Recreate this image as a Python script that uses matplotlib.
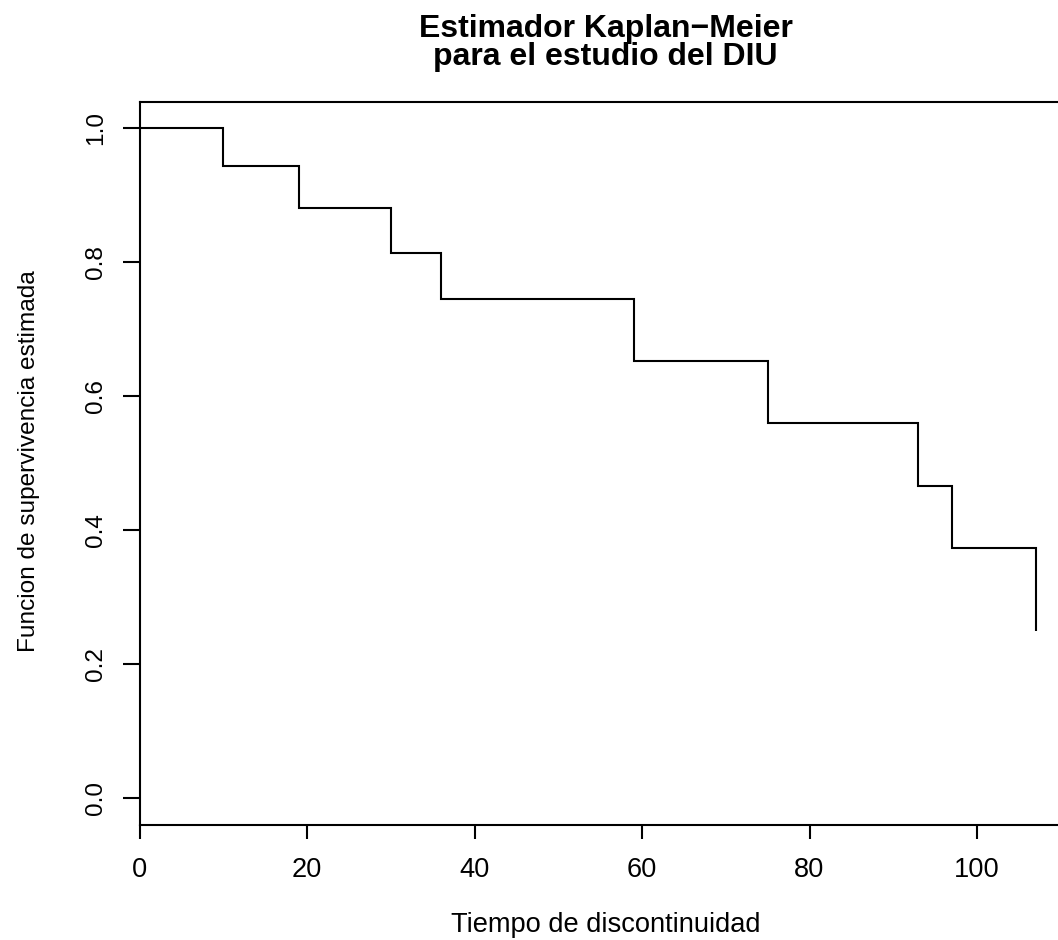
import matplotlib
matplotlib.use("Agg")
import matplotlib.pyplot as plt
import numpy as np

# Kaplan-Meier estimate (IUD / DIU study)
times = [0, 10, 19, 30, 36, 59, 75, 93, 97, 107]
surv = [1.0, 0.9444, 0.8815, 0.8137, 0.7459, 0.6526, 0.5594, 0.4662, 0.3729, 0.2486]
x_ticks = [0, 20, 40, 60, 80, 100]
y_ticks = [0.0, 0.2, 0.4, 0.6, 0.8, 1.0]

plt.rcParams['font.family'] = ['Liberation Sans', 'DejaVu Sans']

W, H, DPI = 1058, 940, 100
fig = plt.figure(figsize=(W / DPI, H / DPI), dpi=DPI)
left_px, right_px, top_px, bottom_px = 139.5, 1071.5, 101.7, 824.7
ax = fig.add_axes([left_px / W, 1 - bottom_px / H, (right_px - left_px) / W, (bottom_px - top_px) / H])

# step line (post)
xs = [times[0]]
ys = [surv[0]]
for i in range(1, len(times)):
    xs += [times[i], times[i]]
    ys += [surv[i - 1], surv[i]]
ax.plot(xs, ys, color='black', lw=1.5, solid_joinstyle='miter', solid_capstyle='butt', clip_on=False)

ax.set_xlim(0, 107 * 1.04)
ax.set_ylim(-0.04, 1.04)
ax.set_xticks(x_ticks)
ax.set_xticklabels([str(v) for v in x_ticks])
ax.set_yticks(y_ticks)
ax.set_yticklabels([f"{v:.1f}" for v in y_ticks], rotation=90, va='center')
for s in ax.spines.values():
    s.set_linewidth(1.5)
ax.tick_params(axis='x', direction='out', length=10.3, width=1.5, labelsize=19.6, colors='black', pad=13)
ax.tick_params(axis='y', direction='out', length=12.2, width=1.5, labelsize=17.6, colors='black', pad=11)

cx = 605.5 / W
fig.text(cx, 1 - 37 / H, "Estimador Kaplan\u2212Meier", ha='center', va='baseline', fontsize=23, fontweight='bold')
fig.text(cx, 1 - 65 / H, "para el estudio del DIU", ha='center', va='baseline', fontsize=23, fontweight='bold')
fig.text(cx, 1 - 931.7 / H, "Tiempo de discontinuidad", ha='center', va='baseline', fontsize=19.6)
fig.text(35 / W, 1 - 460.8 / H, "Funcion de supervivencia estimada", ha='center', va='baseline',
         rotation=90, rotation_mode='anchor', fontsize=17.6)

fig.savefig("out.png", dpi=DPI)
